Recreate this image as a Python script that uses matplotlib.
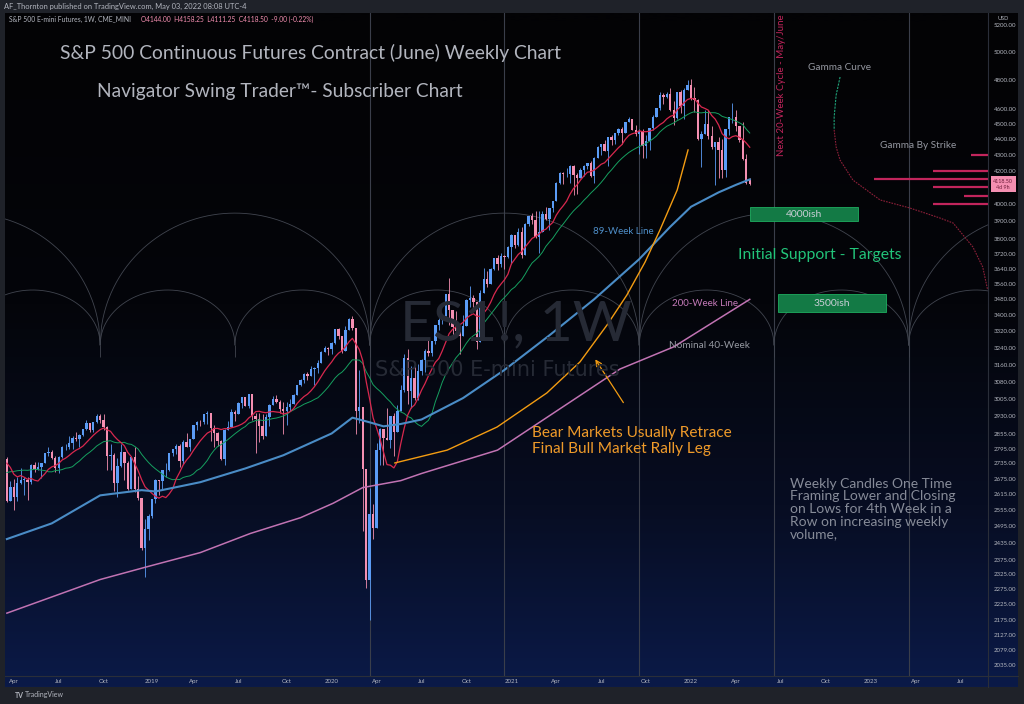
import numpy as np
import pandas as pd
import matplotlib
matplotlib.use("Agg")
import matplotlib.pyplot as plt
import matplotlib.dates as mdates
from matplotlib.patches import Rectangle
from matplotlib.lines import Line2D
from matplotlib.colors import LinearSegmentedColormap
from matplotlib.ticker import NullLocator
from matplotlib.transforms import blended_transform_factory

plt.rcParams['font.family'] = ['Lato', 'DejaVu Sans']

W, H = 1024, 704

# ---- weekly ES1! candles, first bar = week of 2018-03-19 ----
first_week = '2018-03-19'
first_open = 2752.0
last_open = 4144.0

closes = [
    # 2018
    2588, 2641, 2604, 2656, 2670, 2670, 2663, 2728, 2713, 2721, 2735, 2779, 2780, 2755, 2718, 2760,
    2801, 2802, 2819, 2840, 2833, 2850, 2875, 2902, 2872, 2905, 2930, 2914, 2886, 2767, 2768, 2658,
    2723, 2781, 2736, 2633, 2760, 2633, 2600, 2417, 2486, 2532,
    # 2019
    2596, 2671, 2665, 2707, 2708, 2776, 2793, 2804, 2743, 2822, 2800, 2834, 2893, 2907, 2905, 2940,
    2946, 2881, 2860, 2826, 2752, 2873, 2887, 2950, 2942, 2990, 3014, 2977, 3026, 2932, 2918, 2889,
    2847, 2926, 2979, 3007, 2992, 2961, 2952, 2970, 2986, 3023, 3067, 3093, 3120, 3110, 3141, 3146,
    3169, 3221, 3240, 3235,
    # 2020
    3265, 3330, 3295, 3225, 3328, 3380, 3338, 2954, 2972, 2711, 2305, 2541, 2489, 2790, 2875, 2837,
    2830, 2930, 2864, 2955, 3044, 3194, 3041, 3098, 3009, 3130, 3185, 3225, 3216, 3271, 3351, 3373,
    3397, 3508, 3427, 3341, 3319, 3298, 3348, 3477, 3484, 3465, 3270, 3510, 3585, 3558, 3638, 3699,
    3663, 3709, 3703, 3756,
    # 2021
    3825, 3768, 3841, 3714, 3887, 3934, 3906, 3811, 3842, 3943, 3913, 3975, 4020, 4129, 4185, 4180,
    4181, 4233, 4174, 4156, 4204, 4230, 4247, 4166, 4281, 4352, 4370, 4327, 4412, 4395, 4437, 4468,
    4442, 4509, 4535, 4459, 4432, 4455, 4357, 4391, 4471, 4545, 4605, 4697, 4682, 4698, 4595, 4538,
    4712, 4620, 4726, 4766,
    # 2022
    4677, 4663, 4398, 4432, 4500, 4419, 4349, 4385, 4329, 4204, 4463, 4543, 4546, 4488, 4392, 4272,
    4127.5, 4118.5,
]
highs = [
    2762, 2665, 2672, 2680, 2718, 2683, 2682, 2732, 2742, 2742, 2736, 2779, 2801, 2790, 2764, 2764,
    2804, 2816, 2848, 2848, 2864, 2856, 2876, 2917, 2900, 2908, 2940, 2939, 2940, 2890, 2816, 2778,
    2756, 2815, 2775, 2746, 2760, 2800, 2685, 2601, 2520, 2538,
    2597, 2675, 2670, 2708, 2738, 2775, 2795, 2816, 2816, 2830, 2860, 2836, 2894, 2910, 2917, 2940,
    2955, 2931, 2892, 2863, 2830, 2876, 2910, 2964, 2959, 2995, 3017, 3017, 3028, 3029, 2945, 2943,
    2939, 2940, 2985, 3021, 3022, 3002, 2992, 2993, 3008, 3027, 3067, 3097, 3121, 3127, 3154, 3150,
    3182, 3226, 3248, 3246,
    3268, 3330, 3337, 3285, 3347, 3385, 3393, 3259, 3137, 2882, 2562, 2637, 2576, 2818, 2879, 2870,
    2965, 2934, 2945, 2980, 3068, 3211, 3233, 3155, 3155, 3165, 3186, 3235, 3280, 3272, 3352, 3387,
    3399, 3509, 3588, 3425, 3419, 3306, 3398, 3482, 3549, 3502, 3464, 3529, 3645, 3628, 3644, 3699,
    3712, 3726, 3711, 3760,
    3827, 3823, 3861, 3870, 3894, 3934, 3950, 3958, 3960, 3960, 3983, 3978, 4020, 4130, 4192, 4195,
    4218, 4238, 4236, 4187, 4219, 4234, 4249, 4262, 4286, 4355, 4372, 4393, 4415, 4430, 4440, 4470,
    4482, 4513, 4546, 4535, 4490, 4465, 4466, 4429, 4475, 4559, 4608, 4718, 4707, 4717, 4743, 4652,
    4713, 4731, 4740, 4800,
    4808, 4749, 4665, 4453, 4595, 4590, 4489, 4385, 4416, 4402, 4465, 4546, 4637, 4593, 4471, 4513,
    4308, 4158.25,
]
lows = [
    2586, 2594, 2553, 2587, 2652, 2612, 2594, 2655, 2701, 2707, 2676, 2735, 2765, 2751, 2699, 2698,
    2758, 2789, 2795, 2795, 2826, 2802, 2848, 2873, 2864, 2864, 2904, 2904, 2874, 2710, 2710, 2628,
    2603, 2722, 2670, 2631, 2649, 2621, 2593, 2408, 2316, 2444,
    2524, 2580, 2612, 2631, 2681, 2705, 2767, 2775, 2722, 2732, 2800, 2785, 2848, 2873, 2891, 2898,
    2900, 2825, 2801, 2805, 2750, 2728, 2874, 2887, 2911, 2952, 2966, 2975, 2968, 2914, 2776, 2822,
    2834, 2853, 2891, 2981, 2990, 2946, 2855, 2892, 2952, 2991, 3023, 3066, 3078, 3091, 3115, 3070,
    3124, 3183, 3223, 3206,
    3213, 3260, 3281, 3214, 3236, 3335, 3328, 2855, 2901, 2478, 2280, 2174, 2447, 2630, 2727, 2728,
    2830, 2797, 2766, 2909, 2969, 3039, 2984, 2966, 3000, 3000, 3115, 3127, 3201, 3200, 3260, 3328,
    3354, 3400, 3349, 3293, 3320, 3209, 3323, 3354, 3440, 3419, 3233, 3279, 3511, 3543, 3594, 3633,
    3633, 3647, 3636, 3699,
    3663, 3749, 3760, 3694, 3725, 3874, 3885, 3806, 3723, 3844, 3910, 3853, 3955, 4020, 4118, 4118,
    4164, 4126, 4057, 4061, 4155, 4167, 4210, 4164, 4126, 4280, 4300, 4328, 4233, 4363, 4367, 4424,
    4367, 4460, 4513, 4457, 4420, 4306, 4278, 4278, 4329, 4459, 4548, 4595, 4630, 4672, 4585, 4495,
    4532, 4572, 4531, 4733,
    4662, 4582, 4395, 4222, 4436, 4401, 4335, 4114, 4157, 4157, 4162, 4424, 4506, 4450, 4381, 4268,
    4119, 4111.25,
]
# weekly closes before the first candle (Nov 2017 - Mar 2018), only used to seed the averages
history_closes = [2582, 2579, 2602, 2642, 2652, 2676, 2683, 2674, 2743, 2786,
                  2810, 2873, 2762, 2620, 2732, 2747, 2691, 2786, 2752]

# long averages
line89_dates = ['2018-03-19', '2018-06-18', '2018-09-24', '2018-12-17', '2019-01-14', '2019-04-15',
                '2019-07-15', '2019-09-30', '2020-01-06', '2020-02-17', '2020-03-23', '2020-04-20',
                '2020-05-25', '2020-07-06', '2020-09-28', '2020-12-21', '2021-03-22', '2021-06-21',
                '2021-09-20', '2021-11-22', '2022-01-03', '2022-02-28', '2022-04-04', '2022-05-02']
line89_values = [2448, 2505, 2610, 2630, 2625, 2661, 2715, 2768, 2858, 2925, 2905, 2888,
                 2898, 2917, 3010, 3137, 3300, 3480, 3690, 3870, 3985, 4070, 4115, 4148]
line200_dates = ['2018-03-19', '2018-09-24', '2018-12-31', '2019-04-15', '2019-07-25', '2019-11-04',
                 '2020-01-09', '2020-03-09', '2020-05-25', '2020-07-06', '2020-12-07', '2021-08-12',
                 '2021-11-29', '2022-05-02']
line200_values = [2196, 2307, 2352, 2400, 2468, 2526, 2580, 2640, 2667, 2695, 2789, 3141, 3245, 3479]

price_ticks = [5200, 5000, 4800, 4600, 4500, 4400, 4300, 4200, 4000, 3900, 3800, 3720, 3640, 3560,
               3480, 3400, 3320, 3240, 3160, 3080, 3005, 2930, 2855, 2795, 2735, 2675, 2615, 2555,
               2495, 2435, 2375, 2325, 2275, 2225, 2175, 2127, 2079, 2035]
time_tick_dates = ['2018-04-02', '2018-07-02', '2018-10-01', '2019-01-07', '2019-04-01', '2019-07-01',
                   '2019-10-07', '2020-01-06', '2020-04-06', '2020-07-06', '2020-10-05', '2021-01-04',
                   '2021-04-05', '2021-07-05', '2021-10-04', '2022-01-03', '2022-04-04', '2022-07-04',
                   '2022-10-03', '2023-01-02', '2023-04-03', '2023-07-03']
time_tick_labels = ['Apr', 'Jul', 'Oct', '2019', 'Apr', 'Jul', 'Oct', '2020', 'Apr', 'Jul', 'Oct',
                    '2021', 'Apr', 'Jul', 'Oct', '2022', 'Apr', 'Jul', 'Oct', '2023', 'Apr', 'Jul']

# 40-week cycle drawing
cycle_dates = ['2017-03-27', '2017-12-25', '2018-09-24', '2019-06-24', '2020-03-23', '2020-12-21',
               '2021-09-20', '2022-06-20', '2023-03-20', '2023-12-18', '2024-09-16']
cycle_line_dates = ['2020-03-23', '2020-12-21', '2021-09-20', '2022-06-20', '2023-03-20']
arc_base, arc_stub, small_arc_top, big_arc_top = 3254, 3197, 3527, 3948

# gamma by strike
gamma_strikes = [4300, 4200, 4150, 4100, 4050, 4000]
gamma_start = ['2023-07-24', '2023-05-08', '2023-01-09', '2023-05-08', '2023-07-10', '2023-05-08']
gamma_green_dates = ['2022-11-01', '2022-10-24', '2022-10-20', '2022-10-20']
gamma_green_prices = [4820, 4694, 4545, 4460]
gamma_red_dates = ['2022-10-20', '2022-10-24', '2022-11-01', '2022-11-27', '2023-01-21', '2023-03-22',
                   '2023-05-22', '2023-06-18', '2023-07-28', '2023-08-17', '2023-08-27']
gamma_red_prices = [4460, 4350, 4267, 4144, 4025, 3978, 3920, 3891, 3757, 3648, 3527]

# retrace curve and arrow
retrace_dates = ['2020-05-13', '2020-08-27', '2020-12-06', '2021-03-17', '2021-05-23', '2021-07-17',
                 '2021-08-26', '2021-10-02', '2021-11-01', '2021-12-06', '2021-12-28']
retrace_prices = [2737, 2789, 2885, 3033, 3174, 3351, 3501, 3675, 3851, 4084, 4331]
arrow_tail = ('2021-08-22', 2980)
arrow_head = ('2021-06-20', 3197)

# support boxes: label, start, end, low, high
box_labels = ['4000ish', '3500ish']
box_start = ['2022-05-03', '2022-06-28']
box_end = ['2022-12-07', '2023-02-02']
box_low = [3903, 3415]
box_high = [3983, 3506]

last_price = 4118.50


def fx(px):
    return px / W


def fy(py):
    return 1 - py / H


def dn(d):
    return mdates.date2num(pd.Timestamp(d))


fig = plt.figure(figsize=(W / 100, H / 100), dpi=100, facecolor='#1f2229')

# chart background gradient
bg = fig.add_axes([fx(5), fy(687), (1018 - 5) / W, (687 - 13) / H])
bg_cmap = LinearSegmentedColormap.from_list('tv', ['#030305', '#04050a', '#070d22', '#0b1a48'])
grad = np.linspace(0, 1, 256).reshape(-1, 1) ** 1.3
bg.imshow(grad, aspect='auto', cmap=bg_cmap, extent=[0, 1, 1, 0])
bg.set_axis_off()

ax = fig.add_axes([fx(5), fy(676), (988 - 5) / W, (676 - 13) / H])
ax.patch.set_alpha(0)
ax.set_yscale('log')
x0 = dn('2019-01-07')
px_per_day = 0.4936
ax.set_xlim(x0 - (152 - 5) / px_per_day, x0 + (988 - 152) / px_per_day)
ax.set_ylim(5000 * np.exp(-(676 - 52) / 682), 5000 * np.exp((52 - 13) / 682))
for s in ax.spines.values():
    s.set_visible(False)

# watermark
fig.text(fx(516), fy(325), 'ES1!, 1W', fontsize=41, color='#262a35', ha='center', va='center')
fig.text(fx(497), fy(370), 'S&P 500 E-mini Futures', fontsize=15, color='#262a35', ha='center',
         va='center', family='DejaVu Sans')

# cycle lines and arcs
cyc = np.array([dn(d) for d in cycle_dates])
for d in cycle_line_dates:
    ax.axvline(dn(d), color='#3a3e4a', lw=0.8, zorder=1)
u = np.linspace(-1, 1, 200)
shape = np.sqrt(1 - u ** 2)
for a, b in zip(cyc[:-1], cyc[1:]):
    xs = (a + b) / 2 + u * (b - a) / 2
    ax.plot(xs, arc_base * (small_arc_top / arc_base) ** shape, color='#41454f', lw=0.6, zorder=1)
for a, b in zip(cyc[:-2:2], cyc[2::2]):
    xs = (a + b) / 2 + u * (b - a) / 2
    ax.plot(xs, arc_base * (big_arc_top / arc_base) ** shape, color='#41454f', lw=0.6, zorder=1)
ax.vlines(cyc, arc_stub, arc_base, color='#41454f', lw=0.6, zorder=1)

# candles
dates = pd.date_range(first_week, periods=len(closes), freq='7D')
xc = mdates.date2num(dates)
c = np.array(closes, float)
o = np.r_[first_open, c[:-1]]
o[-1] = last_open
hi = np.maximum(np.array(highs, float), np.maximum(o, c))
lo = np.minimum(np.array(lows, float), np.minimum(o, c))
up = c >= o
col = np.where(up, '#5b9cf6', '#f48fb1')
ax.vlines(xc, lo, hi, colors=col, lw=0.6, zorder=3)
body_lo = np.minimum(o, c)
body_hi = np.maximum(np.maximum(o, c), body_lo * 1.0008)
ax.bar(xc, body_hi - body_lo, bottom=body_lo, width=4.8, color=col, linewidth=0, zorder=3)

# moving averages
s_all = pd.Series(history_closes + closes, dtype=float)
n_hist = len(history_closes)
ma10 = s_all.rolling(10).mean().to_numpy()[n_hist:]
ma20 = s_all.rolling(20).mean().to_numpy()[n_hist:]
ax.plot(xc, ma20, color='#16a060', lw=0.7, zorder=4)
ax.plot(xc, ma10, color='#d8284e', lw=0.9, zorder=4)
ax.plot([dn(d) for d in line89_dates], line89_values, color='#4a8cc6', lw=1.5, zorder=4)
ax.plot([dn(d) for d in line200_dates], line200_values, color='#c173b3', lw=1.1, zorder=4)

# retrace curve + arrow
ax.plot([dn(d) for d in retrace_dates], retrace_prices, color='#f39c12', lw=1.0, zorder=5)
ax.annotate('', xy=(dn(arrow_head[0]), arrow_head[1]), xytext=(dn(arrow_tail[0]), arrow_tail[1]),
            arrowprops=dict(arrowstyle='->', color='#f39c12', lw=0.9), zorder=5)

# gamma
xr = ax.get_xlim()[1]
for p, d in zip(gamma_strikes, gamma_start):
    ax.hlines(p, dn(d), xr, color='#c2255c', lw=1.6, zorder=5)
ax.plot([dn(d) for d in gamma_green_dates], gamma_green_prices, color='#1fa37a', lw=0.8,
        ls=(0, (2, 1)), zorder=5)
ax.plot([dn(d) for d in gamma_red_dates], gamma_red_prices, color='#8e2039', lw=0.8,
        ls=(0, (1.5, 1)), zorder=5)

# support boxes
for lab, a, b, l, h in zip(box_labels, box_start, box_end, box_low, box_high):
    ax.add_patch(Rectangle((dn(a), l), dn(b) - dn(a), h - l, facecolor='#137a45',
                           edgecolor='#1fae60', lw=0.6, zorder=5))
    ax.text((dn(a) + dn(b)) / 2, np.sqrt(l * h), lab, ha='center', va='center', fontsize=7.5,
            color='#c9ced6', zorder=6)

# axes ticks
ax.yaxis.tick_right()
ax.set_yticks(price_ticks)
ax.set_yticklabels([f'{p:.2f}' for p in price_ticks])
ax.yaxis.set_minor_locator(NullLocator())
ax.tick_params(axis='y', length=0, pad=4, labelsize=4.4, labelcolor='#b2b5be')
ax.set_xticks([dn(d) for d in time_tick_dates])
ax.set_xticklabels(time_tick_labels)
ax.tick_params(axis='x', length=0, pad=2, labelsize=4.4, labelcolor='#b2b5be')

# last price tag
tr = blended_transform_factory(ax.transAxes, ax.transData)
ax.text(1.0155, last_price, '4118.50\n4d 9h', transform=tr, ha='center', va='center', fontsize=3.9,
        color='#6b1c38', linespacing=1.15, clip_on=False, zorder=7,
        bbox=dict(boxstyle='square,pad=0.5', facecolor='#f48fb1', edgecolor='none'))

# panel separators
fig.add_artist(Line2D([fx(988), fx(988)], [fy(13), fy(687)], color='#2a2e39', lw=0.8))
fig.add_artist(Line2D([fx(5), fx(1018)], [fy(676), fy(676)], color='#2a2e39', lw=0.8))

# header texts
fig.text(fx(4), fy(6), 'AF_Thornton published on TradingView.com, May 03, 2022 08:08 UTC-4',
         fontsize=5.4, color='#b2b5be', va='center')
fig.text(fx(9), fy(19), 'S&P 500 E-mini Futures, 1W, CME_MINI', fontsize=4.9, color='#b2b5be',
         va='center')
fig.text(fx(141), fy(19), 'O4144.00  H4158.25  L4111.25  C4118.50  -9.00 (-0.22%)', fontsize=4.8,
         color='#f48fb1', va='center')
fig.text(fx(1003), fy(19), 'USD', fontsize=4, color='#b2b5be', ha='center', va='center')
fig.text(fx(15), fy(695), 'TV', fontsize=5, color='#b2b5be', weight='bold', va='center')
fig.text(fx(25), fy(695), 'TradingView', fontsize=5, color='#b2b5be', va='center')

# annotations
fig.text(fx(60), fy(53), 'S&P 500 Continuous Futures Contract (June) Weekly Chart', fontsize=13.9,
         color='#b2b5be', va='center')
fig.text(fx(97), fy(91), 'Navigator Swing Trader\u2122- Subscriber Chart', fontsize=13.8,
         color='#b2b5be', va='center')
fig.text(fx(808), fy(67), 'Gamma Curve', fontsize=7.2, color='#9598a1', va='center')
fig.text(fx(880), fy(145), 'Gamma By Strike', fontsize=7.2, color='#9598a1', va='center')
fig.text(fx(782), fy(85), 'Next 20-Week Cycle - May/June', fontsize=7, color='#c2255c',
         rotation=90, ha='center', va='center')
fig.text(fx(593), fy(232), '89-Week Line', fontsize=7, color='#4f8fc9', va='center')
fig.text(fx(672), fy(303), '200-Week Line', fontsize=7, color='#c47ab8', va='center')
fig.text(fx(669), fy(346), 'Nominal 40-Week', fontsize=7.2, color='#9598a1', va='center')
fig.text(fx(820), fy(255), 'Initial Support - Targets', fontsize=11.3, color='#22c47a', ha='center',
         va='center')
fig.text(fx(532), fy(441), 'Bear Markets Usually Retrace\nFinal Bull Market Rally Leg', fontsize=11.1,
         color='#ee9a2a', va='center', linespacing=1.12)
fig.text(fx(790), fy(509),
         'Weekly Candles One Time\nFraming Lower and Closing\non Lows for 4th Week in a\n'
         'Row on increasing weekly\nvolume,', fontsize=10, color='#868b98', va='center',
         linespacing=1.06)

fig.savefig('out.png', dpi=100, facecolor=fig.get_facecolor())
